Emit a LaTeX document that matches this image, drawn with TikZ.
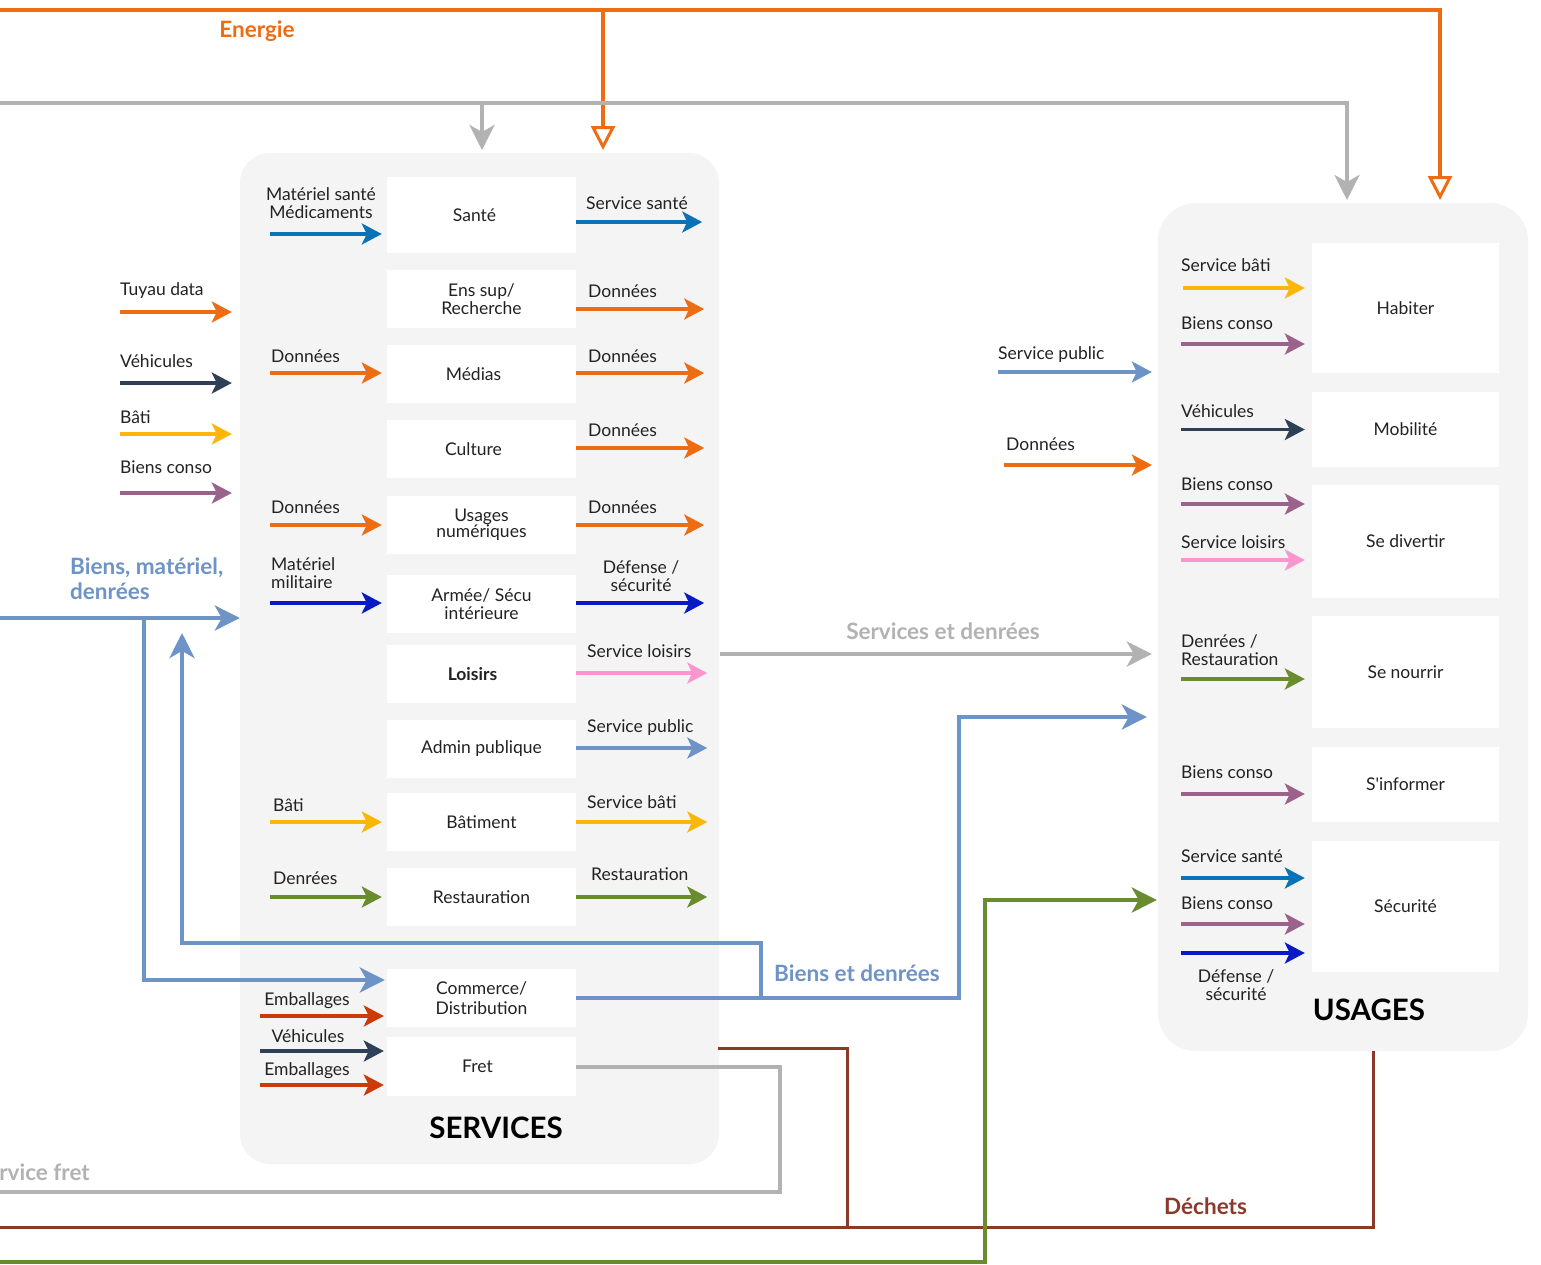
\documentclass[tikz,border=0pt]{standalone}
\usepackage{fontspec}
\setmainfont{Lato}
\usetikzlibrary{arrows.meta}
\definecolor{cOrange}{RGB}{238,108,18}
\definecolor{cBlue}{RGB}{11,114,181}
\definecolor{cNavy}{RGB}{47,64,86}
\definecolor{cYellow}{RGB}{250,183,10}
\definecolor{cPurple}{RGB}{155,98,140}
\definecolor{cMil}{RGB}{8,26,196}
\definecolor{cPink}{RGB}{250,150,205}
\definecolor{cLB}{RGB}{110,147,198}
\definecolor{cGreen}{RGB}{104,140,46}
\definecolor{cRed}{RGB}{204,58,10}
\definecolor{cGray}{RGB}{178,178,178}
\definecolor{cBrown}{RGB}{139,58,42}
\definecolor{cPanel}{RGB}{244,244,244}
\definecolor{cText}{RGB}{34,34,34}
\newcommand\lblf{\fontsize{17.5}{18}\selectfont}
\newcommand\ttlf{\fontsize{22.5}{25}\selectfont\bfseries}
\newcommand\hdf{\fontsize{29.5}{32}\selectfont\bfseries}
\begin{document}
\begin{tikzpicture}[x=1pt,y=-1pt,
  panel/.style={fill=cPanel, draw=none, inner sep=0pt},
  box/.style={fill=white, inner sep=0pt, align=center, font=\lblf, text=cText, minimum width=189pt, minimum height=58pt},
  ubox/.style={fill=white, inner sep=0pt, align=center, font=\lblf, text=cText, minimum width=187pt},
  lbl/.style={inner sep=0pt, font=\lblf, text=cText},
  ttl/.style={inner sep=0pt, font=\ttlf},
  sarr/.style={line width=3.5pt, -{Stealth[length=20pt,width=21pt,inset=5pt]}},
  barr/.style={line width=4pt, -{Stealth[length=25pt,width=25pt,inset=7pt]}},
  oarr/.style={line width=4pt, -{Triangle[open,length=24pt,width=24pt,line width=3pt]}},
  bline/.style={line width=4pt},
]
\useasboundingbox (0,0) rectangle (1541,1264);
\clip (0,0) rectangle (1541,1264);
\fill[white] (0,0) rectangle (1541,1264);

% panels
\node[panel, rounded corners=30pt, minimum width=479pt, minimum height=1011pt] (svc) at (479.5,658.5) {};
\node[panel, rounded corners=38pt, minimum width=370pt, minimum height=848pt] (usg) at (1343,627) {};

% services boxes
\node[box, minimum height=76pt] (sante) at (481.5,215) {\hspace*{-14pt}Santé};
\node[box] (ens) at (481.5,299) {Ens sup/\\Recherche};
\node[box, font=\fontsize{17.5}{16}\selectfont] (usnum) at (481.5,525) {Usages\\numériques};
\node[box] (medias) at (481.5,374) {\hspace*{-16pt}Médias};
\node[box] (culture) at (481.5,449) {\hspace*{-16pt}Culture};
\node[box] (armee) at (481.5,604) {Armée/ Sécu\\intérieure};
\node[box, font=\lblf\bfseries] (loisirs) at (481.5,674) {\hspace*{-18pt}Loisirs};
\node[box] (admin) at (481.5,749) {Admin publique};
\node[box] (batiment) at (481.5,822) {Bâtiment};
\node[box] (resto) at (481.5,897) {Restauration};
\node[box, font=\fontsize{17.5}{20}\selectfont] (commerce) at (481.5,998) {Commerce/\\Distribution};
\node[box, minimum height=59pt] (fret) at (481.5,1066.5) {\hspace*{-8pt}Fret};
\node[inner sep=0pt, font=\hdf, anchor=base] (svct) at (496,1138) {SERVICES};

% usages boxes
\node[ubox, minimum height=130pt] (habiter) at (1405.5,308) {Habiter};
\node[ubox, minimum height=75pt] (mobilite) at (1405.5,429.5) {Mobilité};
\node[ubox, minimum height=113pt] (divertir) at (1405.5,541.5) {Se divertir};
\node[ubox, minimum height=112pt] (nourrir) at (1405.5,672) {Se nourrir};
\node[ubox, minimum height=75pt] (informer) at (1405.5,784.5) {S\textquotesingle informer};
\node[ubox, minimum height=131pt] (securite) at (1405.5,906.5) {Sécurité};
\node[inner sep=0pt, font=\hdf, anchor=base] (usgt) at (1369,1020) {USAGES};

% ---------- big flows ----------
\coordinate (eL) at (0,10);
\coordinate (eJ) at (603,10);
\coordinate (eS) at (603,150);
\coordinate (eU) at (1440,200);
\draw[oarr, cOrange] (eL) -| (eU);
\draw[oarr, cOrange] (eJ) -- (eS);
\node[ttl, text=cOrange, anchor=base] (energie) at (257,37) {Energie};

\coordinate (gL) at (0,103);
\coordinate (gJ) at (482,103);
\coordinate (gS) at (482,150);
\coordinate (gU) at (1347,200);
\draw[barr, cGray] (gL) -| (gU);
\draw[barr, cGray] (gJ) -- (gS);

% biens materiel denrees
\coordinate (bL) at (0,618);
\coordinate (bJ) at (144,618);
\draw[barr, cLB] (bL) -- ([yshift=40.5pt]svc.west);
\draw[barr, cLB] (bJ) |- ([yshift=18pt,xshift=-2pt]commerce.west);
\node[ttl, text=cLB, anchor=base west, align=left] (bmd) at (70,599) {Biens, matériel,\\denrées};

% commerce outputs
\coordinate (c1) at (959,998);
\coordinate (c2) at (761,998);
\coordinate (c3) at (761,943);
\coordinate (c4) at (182,943);
\coordinate (c5) at (182,633);
\draw[barr, cLB] (commerce.east) -- (c1) |- ([yshift=-90pt,xshift=-11pt]usg.west);
\draw[barr, cLB] (c2) -- (c3) -- (c4) -- (c5);
\node[ttl, text=cLB, anchor=base west] (bed) at (774,981) {Biens et denrées};

% services et denrees
\draw[barr, cGray] ([yshift=4.5pt,xshift=1pt]svc.east) -- ([yshift=-27pt,xshift=-6pt]usg.west);
\node[ttl, text=cGray, anchor=base] (sed) at (943,639) {Services et denrées};

% fret
\coordinate (f1) at (780,1192);
\coordinate (f2) at (0,1192);
\draw[bline, cGray] (fret.east) -| (f1) -- (f2);
\node[ttl, text=cGray, anchor=base east] (sfret) at (90,1180) {Service fret};

% dechets
\coordinate (d0) at (718,1048);
\coordinate (d1) at (847,1227);
\coordinate (d2) at (0,1227);
\draw[line width=3pt, cBrown] (d0) -| (d1);
\draw[line width=3pt, cBrown] (usg.south -| 1373,0) |- (d2);
\node[ttl, text=cBrown, anchor=base west] (dech) at (1164,1214) {Déchets};

% green
\coordinate (g0) at (0,1262);
\coordinate (g1) at (985,900);
\draw[barr, cGreen] (g0) -| (g1) -- ([yshift=-273pt,xshift=-1pt]usg.west);

% ---------- external left arrows ----------
\node[lbl, anchor=base west] (xtd) at (120,295) {Tuyau data};
\draw[sarr, cOrange] (120,312) -- ([yshift=346.5pt,xshift=-8pt]svc.west);
\node[lbl, anchor=base west] (xve) at (120,367) {Véhicules};
\draw[sarr, cNavy] (120,383) -- ([yshift=275.5pt,xshift=-8pt]svc.west);
\node[lbl, anchor=base west] (xba) at (120,423) {Bâti};
\draw[sarr, cYellow] (120,434) -- ([yshift=224.5pt,xshift=-8pt]svc.west);
\node[lbl, anchor=base west] (xbc) at (120,473) {Biens conso};
\draw[sarr, cPurple] (120,493) -- ([yshift=165.5pt,xshift=-8pt]svc.west);

% ---------- services inputs ----------
\node[lbl, anchor=base, align=center] (isan) at (321,218) {Matériel santé\\Médicaments};
\draw[sarr, cBlue, shorten >=5pt] ([xshift=-117pt,yshift=-19pt]sante.west) -- ([yshift=-19pt]sante.west);
\node[lbl, anchor=base west] (imed) at (271,362) {Données};
\draw[sarr, cOrange, shorten >=5pt] ([xshift=-117pt,yshift=1pt]medias.west) -- ([yshift=1pt]medias.west);
\node[lbl, anchor=base west] (iusn) at (271,513) {Données};
\draw[sarr, cOrange, shorten >=5pt] ([xshift=-117pt]usnum.west) -- (usnum.west);
\node[lbl, anchor=base west, align=left] (iarm) at (271,588) {Matériel\\militaire};
\draw[sarr, cMil, shorten >=5pt] ([xshift=-117pt,yshift=1pt]armee.west) -- ([yshift=1pt]armee.west);
\node[lbl, anchor=base west] (ibat) at (273,811) {Bâti};
\draw[sarr, cYellow, shorten >=5pt] ([xshift=-117pt]batiment.west) -- (batiment.west);
\node[lbl, anchor=base west] (ires) at (273,884) {Denrées};
\draw[sarr, cGreen, shorten >=5pt] ([xshift=-117pt]resto.west) -- (resto.west);
\node[lbl, anchor=base] (icom) at (307,1005) {Emballages};
\draw[sarr, cRed, shorten >=3pt] ([xshift=-127pt,yshift=-18pt]commerce.west) -- ([yshift=-18pt]commerce.west);
\node[lbl, anchor=base] (ifr1) at (308,1042) {Véhicules};
\draw[sarr, cNavy, shorten >=3pt] ([xshift=-127pt,yshift=15.5pt]fret.west) -- ([yshift=15.5pt]fret.west);
\node[lbl, anchor=base] (ifr2) at (307,1075) {Emballages};
\draw[sarr, cRed, shorten >=3pt] ([xshift=-127pt,yshift=-18.5pt]fret.west) -- ([yshift=-18.5pt]fret.west);

% ---------- services outputs ----------
\node[lbl, anchor=base west] (osan) at (586,209) {Service santé};
\draw[sarr, cBlue] ([yshift=-7pt]sante.east) -- ++(126,0);
\node[lbl, anchor=base west] (oens) at (588,297) {Données};
\draw[sarr, cOrange] ([yshift=-10pt]ens.east) -- ++(128,0);
\node[lbl, anchor=base west] (omed) at (588,362) {Données};
\draw[sarr, cOrange] ([yshift=1pt]medias.east) -- ++(128,0);
\node[lbl, anchor=base west] (ocul) at (588,436) {Données};
\draw[sarr, cOrange] ([yshift=1pt]culture.east) -- ++(128,0);
\node[lbl, anchor=base west] (ousn) at (588,513) {Données};
\draw[sarr, cOrange] (usnum.east) -- ++(128,0);
\node[lbl, anchor=base, align=center] (oarm) at (641,591) {Défense /\\sécurité};
\draw[sarr, cMil] ([yshift=1pt]armee.east) -- ++(128,0);
\node[lbl, anchor=base west] (olo) at (587,657) {Service loisirs};
\draw[sarr, cPink] ([yshift=1pt]loisirs.east) -- ++(131,0);
\node[lbl, anchor=base west] (oad) at (587,732) {Service public};
\draw[sarr, cLB] ([yshift=1pt]admin.east) -- ++(131,0);
\node[lbl, anchor=base west] (oba) at (587,808) {Service bâti};
\draw[sarr, cYellow] (batiment.east) -- ++(131,0);
\node[lbl, anchor=base west] (ore) at (591,880) {Restauration};
\draw[sarr, cGreen] (resto.east) -- ++(131,0);

% ---------- outside usages ----------
\node[lbl, anchor=base west] (usp) at (998,359) {Service public};
\draw[sarr, cLB, shorten >=6pt] ([xshift=-160pt,yshift=255pt]usg.west) -- ([yshift=255pt]usg.west);
\node[lbl, anchor=base west] (udo) at (1006,450) {Données};
\draw[sarr, cOrange, shorten >=6pt] ([xshift=-154pt,yshift=162pt]usg.west) -- ([yshift=162pt]usg.west);

% ---------- usages inputs ----------
\node[lbl, anchor=base west] (h1) at (1181,271) {Service bâti};
\draw[sarr, cYellow, shorten >=7pt] ([xshift=-129pt,yshift=20pt]habiter.west) -- ([yshift=20pt]habiter.west);
\node[lbl, anchor=base west] (h2) at (1181,329) {Biens conso};
\draw[sarr, cPurple, shorten >=7pt] ([xshift=-131pt,yshift=-36pt]habiter.west) -- ([yshift=-36pt]habiter.west);
\node[lbl, anchor=base west] (m1) at (1181,417) {Véhicules};
\draw[sarr, cNavy, shorten >=7pt] ([xshift=-131pt]mobilite.west) -- (mobilite.west);
\node[lbl, anchor=base west] (v1) at (1181,490) {Biens conso};
\draw[sarr, cPurple, shorten >=7pt] ([xshift=-131pt,yshift=37.5pt]divertir.west) -- ([yshift=37.5pt]divertir.west);
\node[lbl, anchor=base west] (v2) at (1181,548) {Service loisirs};
\draw[sarr, cPink, shorten >=7pt] ([xshift=-131pt,yshift=-18.5pt]divertir.west) -- ([yshift=-18.5pt]divertir.west);
\node[lbl, anchor=base west, align=left] (n1) at (1181,665) {Denrées /\\Restauration};
\draw[sarr, cGreen, shorten >=7pt] ([xshift=-131pt,yshift=-7pt]nourrir.west) -- ([yshift=-7pt]nourrir.west);
\node[lbl, anchor=base west] (i1) at (1181,778) {Biens conso};
\draw[sarr, cPurple, shorten >=7pt] ([xshift=-131pt,yshift=-9.5pt]informer.west) -- ([yshift=-9.5pt]informer.west);
\node[lbl, anchor=base west] (s1) at (1181,862) {Service santé};
\draw[sarr, cBlue, shorten >=7pt] ([xshift=-131pt,yshift=28.5pt]securite.west) -- ([yshift=28.5pt]securite.west);
\node[lbl, anchor=base west] (s2) at (1181,909) {Biens conso};
\draw[sarr, cPurple, shorten >=7pt] ([xshift=-131pt,yshift=-17.5pt]securite.west) -- ([yshift=-17.5pt]securite.west);
\draw[sarr, cMil, shorten >=7pt] ([xshift=-131pt,yshift=-46.5pt]securite.west) -- ([yshift=-46.5pt]securite.west);
\node[lbl, anchor=base, align=center] (s3) at (1236,1000) {Défense /\\sécurité};
\end{tikzpicture}
\end{document}
